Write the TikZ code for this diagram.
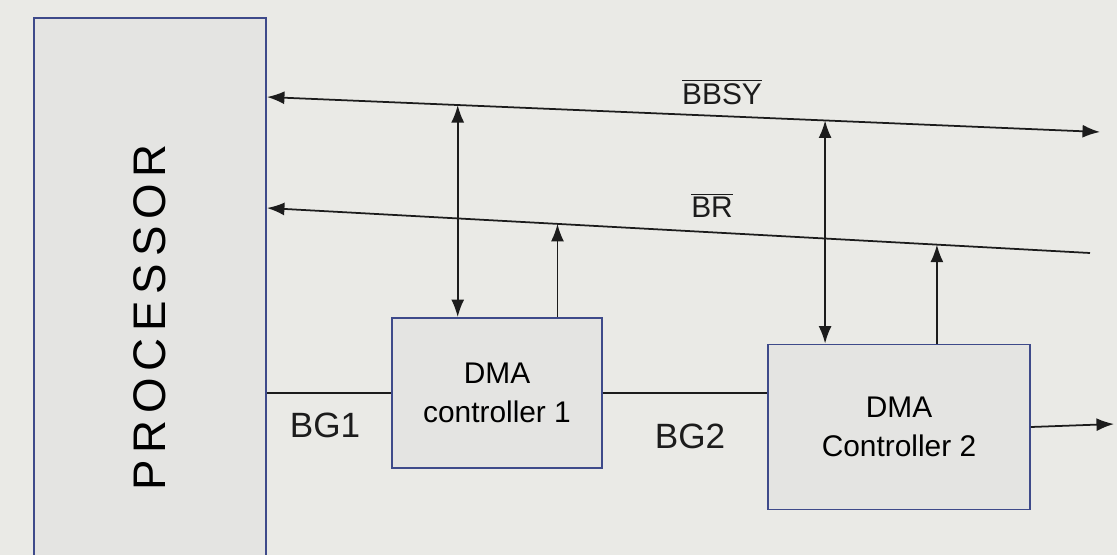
\documentclass[tikz,border=0pt]{standalone}
\usepackage{fontspec}
\setmainfont{Liberation Sans}
\usepackage{graphicx}
\usetikzlibrary{arrows.meta,positioning,calc}
\definecolor{paper}{RGB}{234,234,230}
\definecolor{boxblue}{RGB}{62,74,138}
\definecolor{boxfill}{RGB}{228,228,226}
\definecolor{lineblack}{RGB}{28,28,28}

\begin{document}
\begin{tikzpicture}[
  x=0.02cm, y=-0.02cm,
  box/.style={rectangle, draw=boxblue, fill=boxfill, line width=1.1pt, align=center, font=\fontsize{17}{22}\selectfont, inner sep=0pt},
  lbl/.style={font=\fontsize{17}{19}\selectfont, text=lineblack, inner sep=1pt},
  wire/.style={line width=1pt, draw=lineblack},
  arr/.style={wire, -{Latex[length=3.5mm,width=2.6mm]}},
  dbl/.style={wire, {Latex[length=3.5mm,width=2.6mm]}-{Latex[length=3.5mm,width=2.6mm]}}
]
\fill[paper] (0,0) rectangle (1117,555);
\useasboundingbox (0,0) rectangle (1117,555);

\node[box, minimum width=4.64cm, minimum height=10.9cm, font=\fontsize{26}{28}\selectfont] (proc) at (150,290) {\rotatebox{90}{\addfontfeature{LetterSpace=15}PROCESSOR\hspace*{1.1cm}}};
\node[box, minimum width=4.2cm, minimum height=3cm] (dma1) at (497,393) {DMA\\controller 1};
\node[box, minimum width=5.24cm, minimum height=3.3cm] (dma2) at (899,427) {DMA\\Controller 2};

\coordinate (bbsyend) at (1100,132);
\coordinate (brend) at (1090,253);
\coordinate (bbsyP) at (proc.east |- 0,97);
\coordinate (brP) at (proc.east |- 0,208);
\coordinate (j1) at ($(bbsyP)!0.229!(bbsyend)$);
\coordinate (j3) at ($(bbsyP)!0.670!(bbsyend)$);
\coordinate (j2) at ($(brP)!0.353!(brend)$);
\coordinate (j4) at ($(brP)!0.814!(brend)$);
\coordinate (out) at (1114,424);

\draw[dbl] (bbsyP) -- (bbsyend);
\draw[arr] (brend) -- (brP);
\draw[dbl] (dma1.north -| j1) -- (j1);
\draw[arr] (dma1.north -| j2) -- (j2);
\draw[dbl] (dma2.north -| j3) -- (j3);
\draw[arr] (dma2.north -| j4) -- (j4);
\draw[wire] (proc.east |- dma1.west) -- (dma1.west);
\draw[wire] (dma1.east) -- (dma2.west |- dma1.east);
\draw[arr] (dma2.east) -- (out);

\node[lbl] (bbsylbl) at (722,92) {$\overline{\hbox{BBSY}}$};
\node[lbl] (brlbl) at (712,205) {$\overline{\hbox{BR}}$};
\node[lbl, font=\fontsize{20}{22}\selectfont] (bg1lbl) at (325,425) {BG1};
\node[lbl, font=\fontsize{20}{22}\selectfont] (bg2lbl) at (690,436) {BG2};
\end{tikzpicture}
\end{document}
